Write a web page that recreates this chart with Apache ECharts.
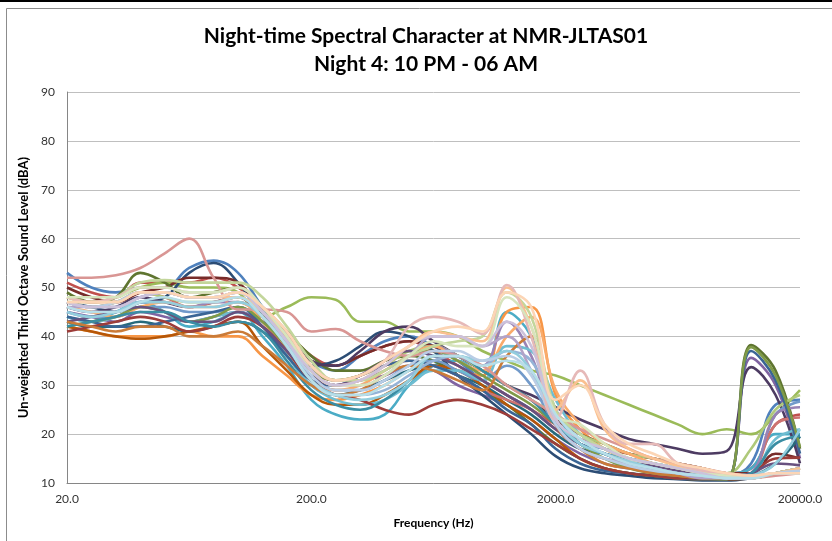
<!DOCTYPE html>
<html>
<head>
<meta charset="utf-8">
<script src="https://cdn.jsdelivr.net/npm/echarts@6/dist/echarts.min.js"></script>
<style>
html,body{margin:0;padding:0;background:#fff;}
#chart{width:832px;height:541px;}
</style>
</head>
<body>
<div id="chart"></div>
<script>
// third octave band centre frequencies (Hz)
var bands = [20,25,31.5,40,50,63,80,100,125,160,200,250,315,400,500,630,800,1000,1250,1600,2000,2500,3150,4000,5000,6300,8000,10000,12500,16000,20000];
var yTicks = [10,20,30,40,50,60,70,80,90];

// one spectrum per interval (dBA)
var s01 = [53,50,49,50,50,54,55.5,53,46,40,35,33,36,39,40,38,35,31,28,25,21,18,16,15,14,13,12,11.5,14,26,27];
var s02 = [51,49,48,51,51,51,52,50,46,41,36,34,36,38,39,37,34,31,28,25,22,19,17,16,15,14,13,12,13,22,24];
var s03 = [48,47,48,50,51,50,50,49,44,46,48,47.5,43,43,41,41,40,37,35,33,32,30,28,26,24,22,20,21,20,24,29];
var s04 = [45,44,43,45,44,43,44,45,43,39,33,30,31,32,34,33,30,28,26,23,19,16,14,13,12.5,12,11.5,11,35.6,30,15];
var s05 = [44,43,45,47,45,42,43,45,40,34,27,24,23,24,30,34,35,32,45,40,25,18,16,15,14,13,12,12,13,20,20];
var s06 = [42,41,40,40,40,41,40,40,36,32,28,27,28,30,33,35,33,32,45,46,28,21,17,15,13,12,11,11,11,12,13];
var s07 = [47,46,45,47,48,53,55,51,44,38,34,35,38,41,40,37,32,28,24,20,15.5,13,12,11.5,11,10.8,10.5,10.5,11,12,13];
var s08 = [50,48,47,49,50,52,52,51,45,40,35,34,36,38,39,38,36,33,30,27,23,20,18,16,15,14,13,12,12,16,15];
var s09 = [49,47,48,53,51,48,49,50,46,41,36,33,33,35,36,35,32,29,26,22,18,15,13,12,11.5,11,10.8,10.8,38.2,33,17];
var s10 = [46,45,46,48,47,46,47,48,44,40,35,34,37,41,42,39,36,33,30,28,25.5,23,21,19,18,17,16,16.5,33.7,28,14];
var s11 = [43,42,42,43,42,41,42,43,41,36,30,28,29,31,33,34,32,30,27,24,20,17,16,14,13,12,11.5,11,11.5,14,19.5];
var s12 = [42,41,40,39.5,40,41,42,43,38,33,28,26,26,28,31,34,33,30,26,23,19,15,13,12,11.5,11,10.8,10.8,11,12,12];
var s13 = [45,44,44,46,46,45,45,46,43,38,32,29,29,31,34,35,33,31,34,30,22,18,17,15,14,13,12,11,12,24,26.7];
var s14 = [47,46,47,49,48,46,47,48,44,39,33,31,32,34,35,34,32,29,27,25,21,17,15,14,13,12,11.5,11,12,22,23.4];
var s15 = [47,46,47,49,48,47,47,48,45,40,34,31,32,34,37,38,36,33,30,27,24,20,18,16,15,14,13,12,17,25,28];
var s16 = [46,45,45,47,47,46,47,47,44,39,33,30,31,33,36,38,36,34,43,36,22,18,16,14,13,12,11.5,11,12,24,25.5];
var s17 = [44,43,44,46,45,43,44,45,42,36,30,27,26,27,30,33,33,31,38,37,27,20,17,15,14,13,12,11.5,12,19,21];
var s18 = [46,45,44,46,47,46,46,47,43,37,31,29,30,33,36,38,35,33,40,44,29,22,18,16,14,13,12,11.5,11,12,13];
var s19 = [44,43,42,42,43,44,45,46,42,36,31,30,32,34,35,34,32,29,25,22,17,14,12.5,12,11.5,11,10.8,10.8,37,31,16];
var s20 = [41,42,43,44,43,41,42,44,42,37,31,28,27,25,24,26,27,26,24,21,18,15,13,12,11.5,11,11,11,12,15,15.2];
var s21 = [42,43,44,46,45,43,44,46,43,38,33,31,32,35,37,37,35,32,29,26,22,18,15,13,12,11.5,11,10.8,37.8,32,17.3];
var s22 = [43,44,45,46,45,43,43,45,42,37,32,30,32,35,37,36,34,31,28,25,21,18,16,14.5,13.5,12.5,12,11,12,14,13.6];
var s23 = [42,43,44,45,45,43,42,43,41,35,29,26,25,27,31,36,36,33,30,27,22,18,16,14,13,12,11.5,11,12,18,19.7];
var s24 = [43,42,41,42,42,40,40,41,38,34,30,28,29,32,34,33,31,29,36,40,22,17,14,13,12,11.5,11,11,11,12,12.2];
var s25 = [47,46,46,48,49,48,48,49,45,39,31,28,28,29,32,35,36,34,37,35,25,19,17,15,14,13,12,11,11,12,13];
var s26 = [52,52,52.5,54,57,60,52,45.5,45.5,45,41,41.5,39,37,36,37,36,34,30,27,24,21,19,17,15,14,13,12,11,11.5,12];
var s27 = [47,47,48,51,51.5,51,51,51,48,42,35,31,31,33,36,38,39,40,49,44,25,20,17,15,14,13,12,11.5,11,12,13];
var s28 = [46,46,46,48,49,48,48,49,45,40,33,30,30,32,36,40,40,38,40,33,22,17,15,14,13,12,11,11,11,12,12];
var s29 = [45,44,45,47,47,46,46,47,44,38,31,28,27,28,31,36,36,35,37,33,23,18,16,14.5,13,12,11.5,11,11.5,14,21];
var s30 = [48,47,47,49,49,48,48,48,45,40,33,30,31,34,38,41,40,39,50,42,25,31,21,17,15,13.5,12.5,12,11.5,12,13];
var s31 = [47,46,47,49,49,48,48,49,45,39,32,29,29,31,34,37,37,35,36,32,22,17,15,13.5,12.5,12,11.5,11,11,12,12.5];
var s32 = [48,47,48,50,50,49,49,50,46,41,34,31,32,35,42,44,43,40.5,50.5,40,23,33,22,18,18,14,12.5,12,11.5,12,12];
var s33 = [48,48,48,50,50,49,49,50,46,40,33,30,30,32,36,39,38,38,48,42,24,22,18,15,14,13,12,11.5,11,12,12];
var s34 = [47,46,46,48,49,48,48,49,45,39,33,30,31,34,38,40,40,38,43,38,23,19,17,15,14,13,12,11,11,12,12];
var s35 = [46,45,45,47,48,47,47,48,44,38,31,28,28,30,33,36,36,34,35,33,24,19,16,14,13,12,11.5,11,11,12,12];
var s36 = [47,47,47,49,49,48,48,49,46,41,34,31,32,35,38,41,42,41,49,46,27,30,22,18,16,14,13,12,11.5,12,12];

var spectra = [s01,s02,s03,s04,s05,s06,s07,s08,s09,s10,s11,s12,s13,s14,s15,s16,s17,s18,
               s19,s20,s21,s22,s23,s24,s25,s26,s27,s28,s29,s30,s31,s32,s33,s34,s35,s36];

var palette = ['#4F81BD','#C0504D','#9BBB59','#8064A2','#4BACC6','#F79646',
               '#2C4D75','#772C2A','#5F7530','#4D3B62','#276A7C','#B65708',
               '#729ACA','#CD7371','#AFC97A','#9983B5','#6FBDD1','#F9AB6B',
               '#3A6595','#9D3D3A','#7F9A48','#68517F','#3A8DA3','#CA7B38',
               '#95B3D7','#D99694','#C3D69B','#B3A2C7','#93CDDD','#FAC090',
               '#B9CDE5','#E6B9B8','#D7E4BD','#CCC1DA','#B7DEE8','#FCD5B5'];

function initSpectrum(id){
    var chart = echarts.init(document.getElementById(id));
    var series = [];
    for(var i=0 ; i<spectra.length ; i++){
        series.push({
            name: 'Interval ' + (i+1),
            type: 'line',
            data: spectra[i],
            smooth: 0.4,
            symbol: 'none',
            lineStyle: {width: 2.6, color: palette[i]},
            itemStyle: {color: palette[i]}
        });
    }
    var option = {
        animation: false,
        backgroundColor: '#fff',
        title: {
            text: 'Night-time Spectral Character at NMR-JLTAS01\nNight 4: 10 PM - 06 AM',
            left: 421,
            top: 17,
            textAlign: 'center',
            textStyle: {
                fontFamily: 'Lato',
                fontWeight: 'bold',
                fontSize: 21,
                lineHeight: 28,
                color: '#000'
            }
        },
        graphic: [
            {type: 'rect', shape: {x: 0, y: 0, width: 832, height: 2}, style: {fill: '#000'}},
            {type: 'rect', shape: {x: 6.5, y: 8.5, width: 900, height: 600}, style: {fill: 'none', stroke: '#8c8c8c', lineWidth: 1}}
        ],
        grid: {left: 67, right: 32, top: 92, bottom: 58},
        xAxis: {
            type: 'category',
            boundaryGap: false,
            data: bands.map(function(b){ return b.toFixed(1); }),
            name: 'Frequency (Hz)',
            nameLocation: 'middle',
            nameGap: 34,
            nameTextStyle: {fontFamily: 'Lato', fontWeight: 'bold', fontSize: 12, color: '#000'},
            axisLine: {lineStyle: {color: '#868686'}},
            axisTick: {show: false},
            axisLabel: {interval: 9, fontFamily: 'Lato', fontSize: 12, color: '#333', margin: 10},
            splitLine: {show: false}
        },
        yAxis: {
            type: 'value',
            min: yTicks[0],
            max: yTicks[yTicks.length-1],
            interval: 10,
            name: 'Un-weighted Third Octave Sound Level (dBA)',
            nameLocation: 'middle',
            nameGap: 33,
            nameTextStyle: {fontFamily: 'Lato', fontWeight: 'bold', fontSize: 13, color: '#000'},
            axisLine: {show: true, lineStyle: {color: '#868686'}},
            axisTick: {show: false},
            axisLabel: {fontFamily: 'Lato', fontSize: 12, color: '#333', margin: 12},
            splitLine: {lineStyle: {color: '#BFBFBF'}}
        },
        series: series
    };
    chart.setOption(option);
    return chart;
}

initSpectrum('chart');
</script>
</body>
</html>
